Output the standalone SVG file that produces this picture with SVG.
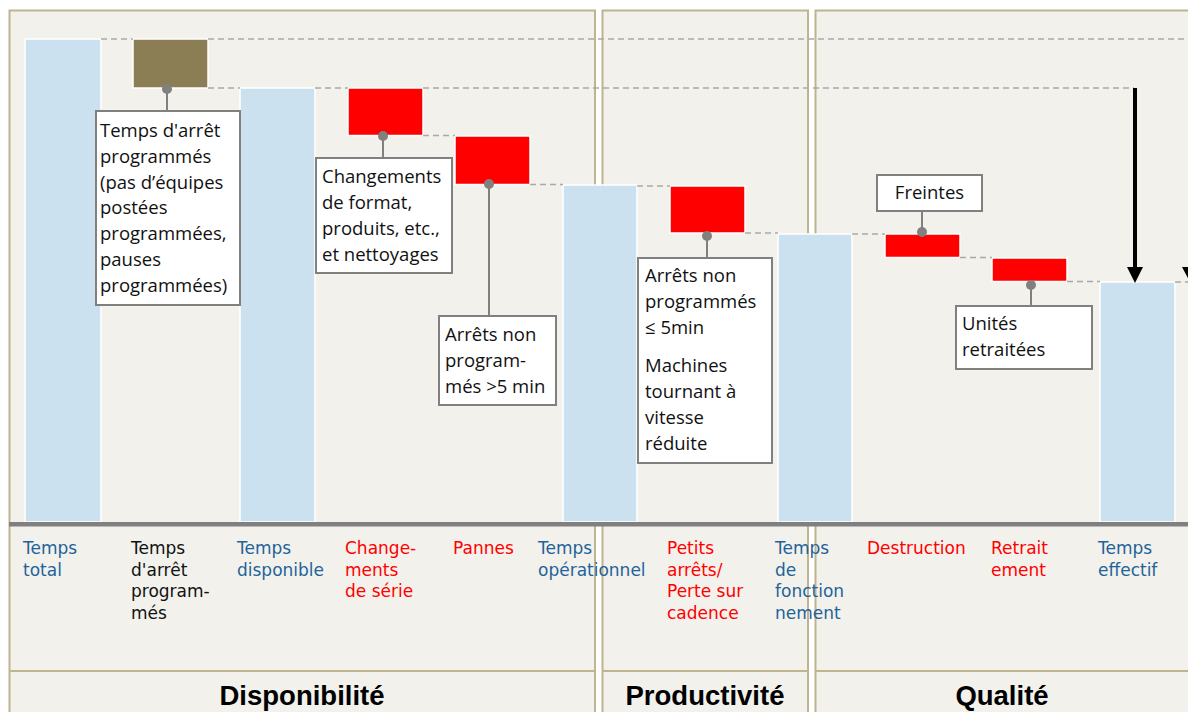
<svg xmlns="http://www.w3.org/2000/svg" width="1188" height="712" viewBox="0 0 1188 712">
  <style>
    .panel { fill: #F2F1EC; stroke: #BFB48F; stroke-width: 2; }
    .sep { stroke: #BFB48F; stroke-width: 2; }
    .total { fill: #CCE1F0; stroke: #FFFFFF; stroke-width: 1.5; }
    .loss { fill: #FF0000; stroke: #FFFFFF; stroke-width: 1.5; }
    .plan { fill: #8B7E55; stroke: #FFFFFF; stroke-width: 1.5; }
    .dash { stroke: #A9A9A9; stroke-width: 1.5; stroke-dasharray: 6 4; fill: none; }
    .lead { stroke: #808080; stroke-width: 2; fill: none; }
    .dot { fill: #808080; }
    .box { fill: #FFFFFF; stroke: #808080; stroke-width: 2; }
    .note { font-family: "Open Sans", "Noto Sans", sans-serif; font-size: 18.5px; fill: #111111; }
    .lbl { font-family: "DejaVu Sans", "Open Sans", sans-serif; font-size: 17px; }
    .blue { fill: #1F639A; }
    .red { fill: #FF0000; }
    .blk { fill: #111111; }
    .title { font-family: "Liberation Sans", Arial, sans-serif; font-size: 27.5px; font-weight: bold; fill: #000000; text-anchor: middle; }
  </style>

  <rect width="1188" height="712" fill="#FFFFFF"/>

  <!-- section panels -->
  <g id="panels">
    <rect class="panel" x="9.5" y="10.5" width="585.5" height="710"/>
    <rect class="panel" x="602.5" y="10.5" width="205.5" height="710"/>
    <rect class="panel" x="815.5" y="10.5" width="380" height="710"/>
    <line class="sep" x1="9.5" y1="671" x2="595" y2="671"/>
    <line class="sep" x1="602.5" y1="671" x2="808" y2="671"/>
    <line class="sep" x1="815.5" y1="671" x2="1188" y2="671"/>
  </g>

  <!-- waterfall bars -->
  <g id="bar-temps-total"><rect class="total" x="25" y="39" width="76" height="483"/></g>
  <g id="bar-arret-programme"><rect class="plan" x="133" y="39" width="75" height="49"/></g>
  <g id="bar-temps-disponible"><rect class="total" x="240" y="88" width="75" height="434"/></g>
  <g id="bar-changements"><rect class="loss" x="348" y="88" width="75" height="47.5"/></g>
  <g id="bar-pannes"><rect class="loss" x="455" y="136" width="75" height="48.5"/></g>
  <g id="bar-temps-operationnel"><rect class="total" x="563" y="185" width="74" height="337"/></g>
  <g id="bar-petits-arrets"><rect class="loss" x="670" y="186" width="75" height="47"/></g>
  <g id="bar-temps-fonctionnement"><rect class="total" x="778" y="234" width="74" height="288"/></g>
  <g id="bar-destruction"><rect class="loss" x="885" y="234" width="75" height="23.5"/></g>
  <g id="bar-retraitement"><rect class="loss" x="992" y="258" width="75" height="23.5"/></g>
  <g id="bar-temps-effectif"><rect class="total" x="1100" y="282" width="75" height="240"/></g>

  <!-- dashed level guides, callout leaders and loss arrows -->
  <g id="connectors">
    <line class="dash" x1="101" y1="39" x2="133" y2="39"/>
    <line class="dash" x1="208" y1="39" x2="1188" y2="39"/>
    <line class="dash" x1="208" y1="88" x2="240" y2="88"/>
    <line class="dash" x1="315" y1="88" x2="348" y2="88"/>
    <line class="dash" x1="423" y1="88" x2="1134" y2="88"/>
    <line class="dash" x1="423" y1="135.5" x2="455" y2="135.5"/>
    <line class="dash" x1="530" y1="184.5" x2="563" y2="184.5"/>
    <line class="dash" x1="637" y1="186" x2="670" y2="186"/>
    <line class="dash" x1="745" y1="233" x2="778" y2="233"/>
    <line class="dash" x1="852" y1="234" x2="885" y2="234"/>
    <line class="dash" x1="960" y1="257.5" x2="992" y2="257.5"/>
    <line class="dash" x1="1067" y1="281.5" x2="1100" y2="281.5"/>
    <line class="dash" x1="1175" y1="282" x2="1188" y2="282"/>

    <line class="lead" x1="167" y1="89" x2="167" y2="111"/>
    <circle class="dot" cx="167" cy="89" r="5"/>
    <line class="lead" x1="383" y1="136" x2="383" y2="158"/>
    <circle class="dot" cx="383" cy="136" r="5"/>
    <line class="lead" x1="489" y1="184" x2="489" y2="316"/>
    <circle class="dot" cx="489" cy="184" r="5"/>
    <line class="lead" x1="707" y1="236" x2="707" y2="258"/>
    <circle class="dot" cx="707" cy="236" r="5"/>
    <line class="lead" x1="922" y1="211" x2="922" y2="232"/>
    <circle class="dot" cx="922" cy="232" r="5"/>
    <line class="lead" x1="1031" y1="285" x2="1031" y2="306"/>
    <circle class="dot" cx="1031" cy="285" r="5"/>

    <line x1="1135" y1="88" x2="1135" y2="268" stroke="#000000" stroke-width="4"/>
    <polygon points="1127,267 1143,267 1135,283" fill="#000000"/>
    <polygon points="1182,267 1198,267 1190,282" fill="#000000"/>
  </g>

  <!-- axis -->
  <rect x="9" y="522" width="1179" height="4.5" fill="#808080"/>

  <!-- callout boxes -->
  <g id="note-arret-programme">
    <rect class="box" x="96" y="111" width="144" height="194"/>
    <text class="note">
      <tspan x="100" y="137">Temps d'arrêt</tspan>
      <tspan x="100" y="163">programmés</tspan>
      <tspan x="100" y="189">(pas d’équipes</tspan>
      <tspan x="100" y="214">postées</tspan>
      <tspan x="100" y="240">programmées,</tspan>
      <tspan x="100" y="266">pauses</tspan>
      <tspan x="100" y="292">programmées)</tspan>
    </text>
  </g>
  <g id="note-changements">
    <rect class="box" x="316" y="158" width="136" height="115"/>
    <text class="note">
      <tspan x="322" y="183">Changements</tspan>
      <tspan x="322" y="209">de format,</tspan>
      <tspan x="322" y="235">produits, etc.,</tspan>
      <tspan x="322" y="261">et nettoyages</tspan>
    </text>
  </g>
  <g id="note-pannes">
    <rect class="box" x="439" y="316" width="117" height="89"/>
    <text class="note">
      <tspan x="445" y="341">Arrêts non</tspan>
      <tspan x="445" y="367">program-</tspan>
      <tspan x="445" y="393">més &gt;5 min</tspan>
    </text>
  </g>
  <g id="note-petits-arrets">
    <rect class="box" x="638" y="258" width="134" height="205"/>
    <text class="note">
      <tspan x="645" y="282">Arrêts non</tspan>
      <tspan x="645" y="308">programmés</tspan>
      <tspan x="645" y="334">≤ 5min</tspan>
      <tspan x="645" y="372">Machines</tspan>
      <tspan x="645" y="398">tournant à</tspan>
      <tspan x="645" y="424">vitesse</tspan>
      <tspan x="645" y="450">réduite</tspan>
    </text>
  </g>
  <g id="note-freintes">
    <rect class="box" x="877" y="175" width="105" height="36"/>
    <text class="note" x="929.5" y="199" text-anchor="middle">Freintes</text>
  </g>
  <g id="note-retraitement">
    <rect class="box" x="956" y="306" width="136" height="63"/>
    <text class="note">
      <tspan x="962" y="330">Unités</tspan>
      <tspan x="962" y="356">retraitées</tspan>
    </text>
  </g>

  <!-- category labels under the axis -->
  <g id="labels">
    <text class="lbl blue"><tspan x="23" y="554">Temps</tspan><tspan x="23" y="575.5">total</tspan></text>
    <text class="lbl blk"><tspan x="131" y="554">Temps</tspan><tspan x="131" y="575.5">d'arrêt</tspan><tspan x="131" y="597">program-</tspan><tspan x="131" y="618.5">més</tspan></text>
    <text class="lbl blue"><tspan x="237" y="554">Temps</tspan><tspan x="237" y="575.5">disponible</tspan></text>
    <text class="lbl red"><tspan x="345" y="554">Change-</tspan><tspan x="345" y="575.5">ments</tspan><tspan x="345" y="597">de série</tspan></text>
    <text class="lbl red"><tspan x="453" y="554">Pannes</tspan></text>
    <text class="lbl blue"><tspan x="538" y="554">Temps</tspan><tspan x="538" y="575.5">opérationnel</tspan></text>
    <text class="lbl red"><tspan x="667" y="554">Petits</tspan><tspan x="667" y="575.5">arrêts/</tspan><tspan x="667" y="597">Perte sur</tspan><tspan x="667" y="618.5">cadence</tspan></text>
    <text class="lbl blue"><tspan x="775" y="554">Temps</tspan><tspan x="775" y="575.5">de</tspan><tspan x="775" y="597">fonction</tspan><tspan x="775" y="618.5">nement</tspan></text>
    <text class="lbl red"><tspan x="867" y="554">Destruction</tspan></text>
    <text class="lbl red"><tspan x="991" y="554">Retrait</tspan><tspan x="991" y="575.5">ement</tspan></text>
    <text class="lbl blue"><tspan x="1098" y="554">Temps</tspan><tspan x="1098" y="575.5">effectif</tspan></text>
  </g>

  <!-- section titles -->
  <g id="titles">
    <text class="title" x="302" y="705">Disponibilité</text>
    <text class="title" x="705" y="705">Productivité</text>
    <text class="title" x="1002" y="705">Qualité</text>
  </g>
</svg>
